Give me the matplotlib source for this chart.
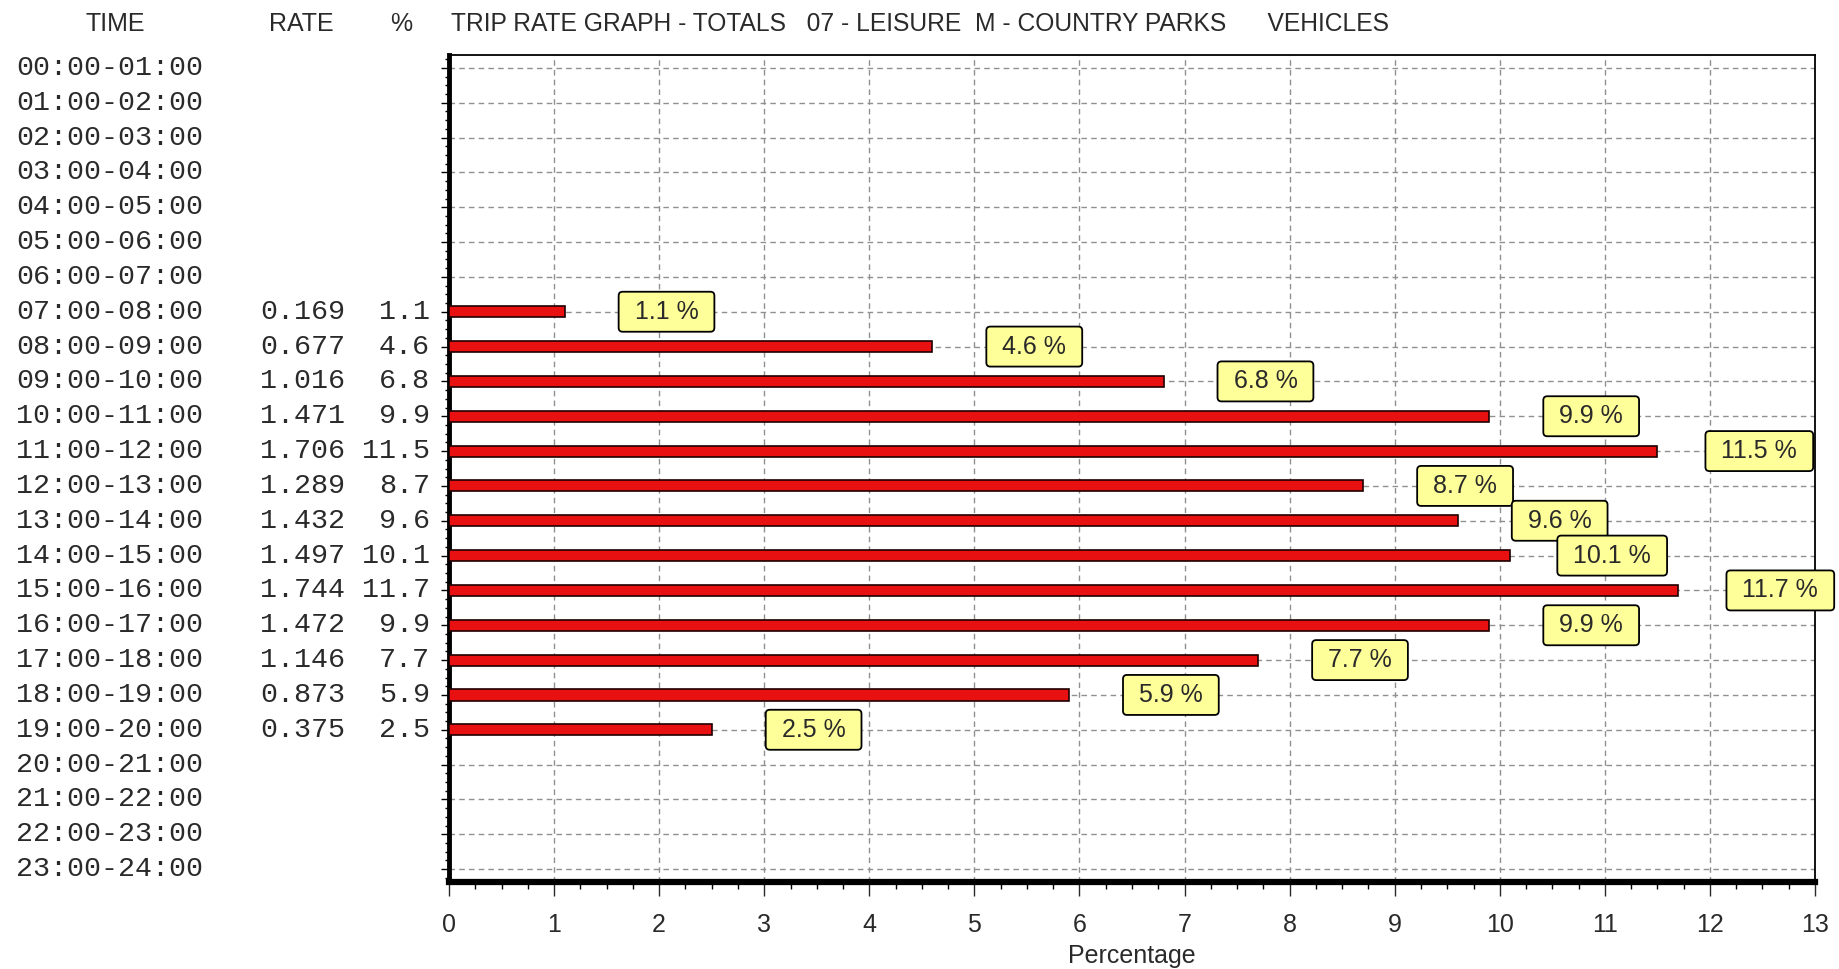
import matplotlib
matplotlib.use("Agg")
import matplotlib.pyplot as plt
import matplotlib.transforms as mtransforms
from matplotlib.path import Path
from matplotlib.ticker import MultipleLocator

# hourly trip rates (vehicles) and share of daily total
times = ["%02d:00-%02d:00" % (h, h + 1) for h in range(24)]
rates = [None] * 7 + [0.169, 0.677, 1.016, 1.471, 1.706, 1.289, 1.432,
                      1.497, 1.744, 1.472, 1.146, 0.873, 0.375] + [None] * 4
pcts = [None] * 7 + [1.1, 4.6, 6.8, 9.9, 11.5, 8.7, 9.6,
                     10.1, 11.7, 9.9, 7.7, 5.9, 2.5] + [None] * 4

title = "TRIP RATE GRAPH - TOTALS   07 - LEISURE  M - COUNTRY PARKS      VEHICLES"

sans = ["Liberation Sans", "DejaVu Sans"]
mono = ["Liberation Mono", "DejaVu Sans Mono"]
txt_col = "#2a2a2a"


def label_box(x0, y0, width, height, mutation_size):
    # rounded box, padded more left/right than top/bottom
    px, py, rr = 16, 8, 4
    x0, y0 = x0 - px, y0 - py
    x1, y1 = x0 + width + 2 * px, y0 + height + 2 * py
    verts = [(x0 + rr, y0), (x1 - rr, y0), (x1, y0), (x1, y0 + rr),
             (x1, y1 - rr), (x1, y1), (x1 - rr, y1),
             (x0 + rr, y1), (x0, y1), (x0, y1 - rr),
             (x0, y0 + rr), (x0, y0), (x0 + rr, y0), (x0 + rr, y0)]
    codes = [Path.MOVETO, Path.LINETO, Path.CURVE3, Path.CURVE3,
             Path.LINETO, Path.CURVE3, Path.CURVE3,
             Path.LINETO, Path.CURVE3, Path.CURVE3,
             Path.LINETO, Path.CURVE3, Path.CURVE3, Path.CLOSEPOLY]
    return Path(verts, codes)


fig = plt.figure(figsize=(18.39, 9.69), dpi=100)
ax = fig.add_axes([449 / 1839, 87 / 969, (1815 - 449) / 1839, (882 - 55) / 969])

rows = list(range(24))

# grid
for r in rows:
    ax.axhline(r, color="#909090", lw=1, ls=(0, (4, 3)), zorder=0)
for x in range(1, 13):
    ax.axvline(x, color="#909090", lw=1, ls=(0, (4, 3)), zorder=0)

# bars and value labels
for r, p in zip(rows, pcts):
    if p is None:
        continue
    ax.barh(r, p, height=0.32, color="#e81010", edgecolor="#200000",
            linewidth=1.2, zorder=3)
    ax.text(p + 0.97, r, "%.1f %%" % p, ha="center", va="center",
            fontsize=18, family=sans, color=txt_col, zorder=5,
            bbox=dict(boxstyle=label_box, facecolor="#ffff99",
                      edgecolor="black", lw=1.3))

# spines and ticks
for s in ["top", "right"]:
    ax.spines[s].set_linewidth(1.3)
ax.spines["left"].set_linewidth(3.5)
ax.spines["bottom"].set_linewidth(4.5)

ax.xaxis.set_major_locator(MultipleLocator(1))
ax.xaxis.set_minor_locator(MultipleLocator(0.25))
ax.set_yticks(rows)
ax.set_yticks([r + q for r in range(-1, 24) for q in (0.25, 0.5, 0.75)], minor=True)
ax.set_yticklabels([])
ax.set_xlim(0, 13)
ax.set_ylim(23.37, -0.37)
ax.tick_params(axis="x", which="major", length=10, width=1, direction="out",
               labelsize=18, pad=12, colors=txt_col)
ax.tick_params(axis="x", which="minor", length=5, width=1, direction="out")
ax.tick_params(axis="y", which="major", length=6, width=1, direction="out")
ax.tick_params(axis="y", which="minor", length=3, width=1, direction="out")
for lab in ax.get_xticklabels():
    lab.set_family(sans)
ax.set_xlabel("Percentage", fontsize=18, family=sans, color=txt_col, labelpad=5)

# left-hand table of time bands, rates and percentages
tr = mtransforms.blended_transform_factory(fig.transFigure, ax.transData)
for r, t, rt, p in zip(rows, times, rates, pcts):
    ax.text(16 / 1839, r, t, transform=tr, ha="left", va="center",
            fontsize=20.4, family=mono, color=txt_col, clip_on=False)
    if rt is not None:
        ax.text(345 / 1839, r, "%.3f" % rt, transform=tr, ha="right",
                va="center", fontsize=20.4, family=mono, color=txt_col, clip_on=False)
        ax.text(430 / 1839, r, "%.1f" % p, transform=tr, ha="right",
                va="center", fontsize=20.4, family=mono, color=txt_col, clip_on=False)

# header row
hy = 1 - 24 / 969
fig.text(115 / 1839, hy, "TIME", ha="center", va="center", fontsize=18,
         family=sans, color=txt_col)
fig.text(301 / 1839, hy, "RATE", ha="center", va="center", fontsize=18,
         family=sans, color=txt_col)
fig.text(401 / 1839, hy, "%", ha="center", va="center", fontsize=18,
         family=sans, color=txt_col)
fig.text(451 / 1839, hy, title, ha="left", va="center", fontsize=17.7,
         family=sans, color=txt_col)

fig.savefig("out.png", dpi=100)
